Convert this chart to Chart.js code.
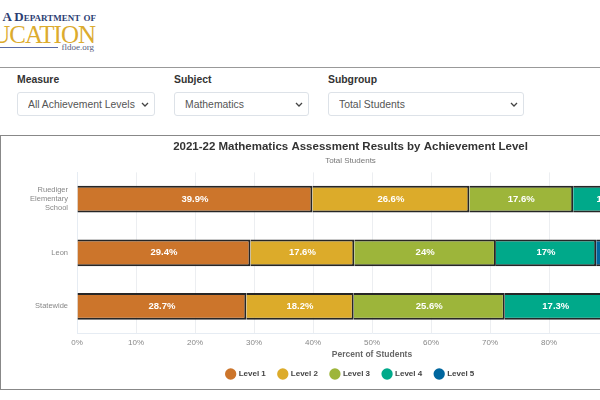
<!DOCTYPE html>
<html>
<head>
<meta charset="utf-8">
<script src="https://cdn.jsdelivr.net/npm/chart.js@4/dist/chart.umd.min.js"></script>
<style>
html, body { margin:0; padding:0; width:600px; height:400px; overflow:hidden; background:#fff; font-family:"Liberation Sans", Arial, sans-serif; }
.abs { position:absolute; white-space:nowrap; }
.dept { right:504px; top:9px; font:bold 13px "Liberation Serif", serif; font-variant:small-caps; color:#2c3e73; }
.edu { right:505px; top:21px; font:25px "Liberation Serif", serif; letter-spacing:-1px; color:#dcab2e; }
.rule { left:0; top:47px; width:58px; height:1px; background:#5a6ba5; }
.site { right:506px; top:42px; font:9px "Liberation Serif", serif; color:#555e80; }
.hr { left:0; top:67px; width:600px; height:1px; background:#999; }
label { position:absolute; top:74px; font-size:10.4px; font-weight:bold; color:#333; }
select { position:absolute; top:92px; height:24px; box-sizing:border-box; appearance:none; -webkit-appearance:none; border:1px solid #dde2e8; border-radius:3px; font:10.4px "Liberation Sans", Arial, sans-serif; color:#555; padding:0 6px 0 10px; background:#fff url("data:image/svg+xml,%3Csvg xmlns='http://www.w3.org/2000/svg' width='8' height='5'%3E%3Cpath d='M1 1l3 3 3-3' fill='none' stroke='%23444' stroke-width='1.3'/%3E%3C/svg%3E") no-repeat right 5px center; }
#box { position:absolute; left:0; top:135px; width:720px; height:255px; box-sizing:border-box; border:1.5px solid #888; }
canvas { position:absolute; left:0; top:0; }
</style>
</head>
<body>
<div class="abs dept">A Department of</div>
<div class="abs edu">UCATION</div>
<div class="abs rule"></div>
<div class="abs site">fldoe.org</div>
<div class="abs hr"></div>

<label style="left:17px">Measure</label>
<select style="left:17px;width:138px"><option>All Achievement Levels</option></select>
<label style="left:174px">Subject</label>
<select style="left:174px;width:135px"><option>Mathematics</option></select>
<label style="left:328px">Subgroup</label>
<select style="left:328px;width:196px"><option>Total Students</option></select>

<div id="box"><canvas id="chart" width="699" height="252"></canvas></div>

<script>
const categories = [["Ruediger","Elementary","School"], "Leon", "Statewide"];
const seriesNames = ["Level 1","Level 2","Level 3","Level 4","Level 5"];
const level1 = [39.9, 29.4, 28.7];
const level2 = [26.6, 17.6, 18.2];
const level3 = [17.6, 24, 25.6];
const level4 = [12.5, 17, 17.3];
const level5 = [3.4, 12, 10.2];
const colors = ["#cc752b","#dcab2a","#9db53a","#00a98a","#00669e"];
const xTicks = [0,10,20,30,40,50,60,70,80,90,100];

const seriesValues = [level1, level2, level3, level4, level5];

// no datalabels plugin here, so the white percent text is drawn from the bars
const barLabels = {
    id:"barLabels",
    afterDatasetsDraw(chart) {
        const ctx = chart.ctx;
        ctx.save();
        ctx.font = "bold 9.5px 'Liberation Sans', Arial, sans-serif";
        ctx.fillStyle = "#fff";
        ctx.textAlign = "center";
        ctx.textBaseline = "middle";
        chart.data.datasets.forEach((ds, i) => {
            chart.getDatasetMeta(i).data.forEach((bar, j) => {
                const c = bar.getCenterPoint();
                ctx.fillText(ds.data[j] + "%", c.x, c.y);
            });
        });
        ctx.restore();
    }
};

new Chart(document.getElementById("chart"), {
    type:"bar",
    data:{
        labels:categories,
        datasets:seriesNames.map((name, i) => ({
            label:name,
            data:seriesValues[i],
            backgroundColor:colors[i],
            borderColor:"#262626",
            borderWidth:2,
            barPercentage:0.5,
            categoryPercentage:1
        }))
    },
    plugins:[barLabels],
    options:{
        indexAxis:"y",
        responsive:false,
        animation:false,
        layout:{ padding:{ left:0, right:0, top:4, bottom:0 } },
        scales:{
            x:{
                stacked:true,
                min:0,
                max:100,
                afterBuildTicks(axis) { axis.ticks = xTicks.map(v => ({ value:v })); },
                ticks:{ callback:v => v + "%", color:"#888", font:{ size:8 }, maxRotation:0, padding:5 },
                grid:{ color:"#eceef1", drawTicks:false },
                border:{ color:"#e6ecf3" },
                title:{ display:true, text:"Percent of Students", color:"#666", font:{ size:8.5, weight:"bold" }, padding:{ top:-3, bottom:-3 } }
            },
            y:{
                stacked:true,
                ticks:{ color:"#888", font:{ size:7.5 }, padding:9 },
                grid:{ display:false, drawTicks:false },
                border:{ color:"#e6ecf3" },
                afterFit(axis) { axis.width = 76; }
            },
            // empty right axis keeps the plot short of the canvas edge while the title stays centred
            yRight:{
                position:"right",
                display:true,
                ticks:{ display:false },
                grid:{ display:false, drawTicks:false },
                border:{ display:false },
                afterFit(axis) { axis.width = 33; }
            }
        },
        plugins:{
            title:{ display:true, text:"2021-22 Mathematics Assessment Results by Achievement Level", color:"#333", font:{ size:11.5, weight:"bold" }, padding:{ top:0, bottom:2 } },
            subtitle:{ display:true, text:"Total Students", color:"#777", font:{ size:8 }, padding:{ bottom:7 } },
            legend:{
                position:"bottom",
                labels:{
                    usePointStyle:true,
                    pointStyle:"circle",
                    boxWidth:8,
                    boxHeight:8,
                    color:"#444",
                    font:{ size:8, weight:"bold" },
                    padding:13,
                    generateLabels(chart) {
                        return chart.data.datasets.map((ds, i) => ({
                            text:ds.label,
                            fillStyle:colors[i],
                            strokeStyle:colors[i],
                            fontColor:"#444",
                            lineWidth:0,
                            pointStyle:"circle",
                            datasetIndex:i
                        }));
                    }
                }
            },
            tooltip:{ enabled:false }
        }
    }
});
</script>
</body>
</html>
